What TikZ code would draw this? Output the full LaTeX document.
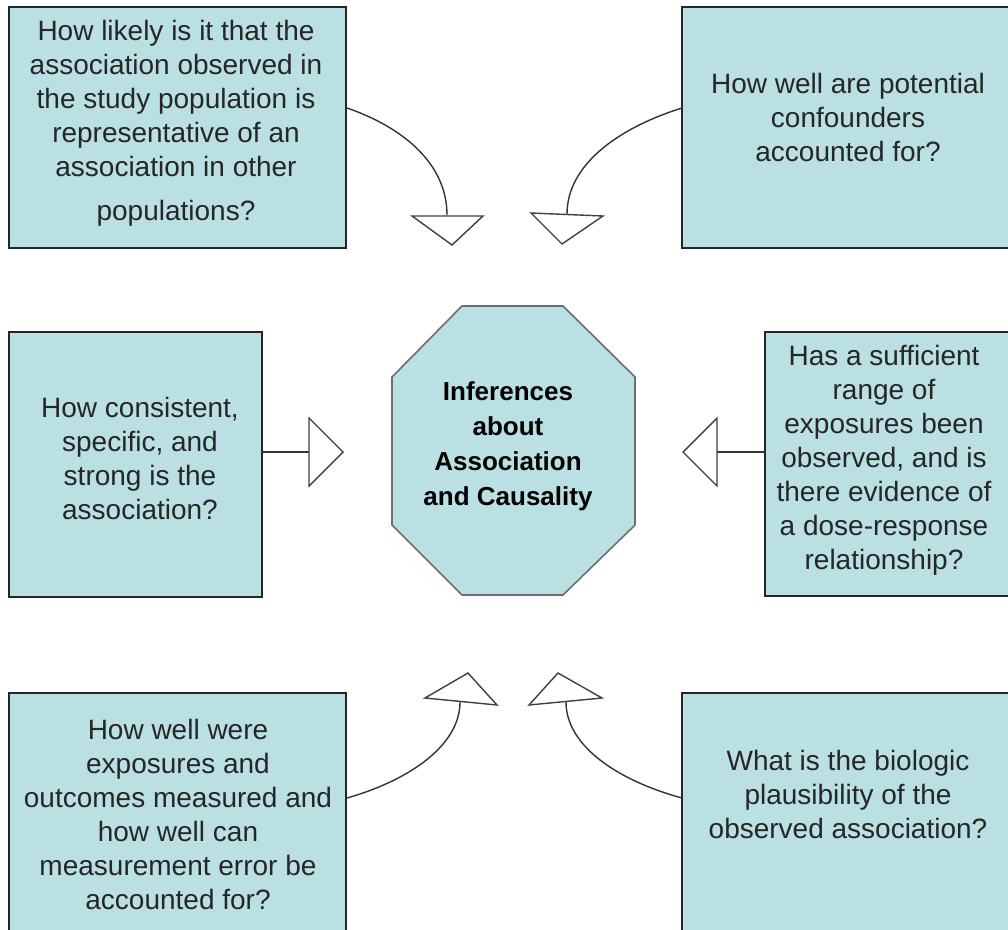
\documentclass[tikz,border=0pt]{standalone}
\usepackage{fontspec}
\setmainfont{Liberation Sans}
\definecolor{boxfill}{RGB}{186,224,227}
\definecolor{octline}{RGB}{110,110,110}
\begin{document}
\begin{tikzpicture}[x=1pt,y=-1pt,
  box/.style={draw=black!85, line width=1.6pt, fill=boxfill, anchor=north west, inner sep=0pt, outer sep=0pt},
  txt/.style={align=center, font=\fontsize{28}{34}\selectfont, text=black!85, inner sep=0pt},
  octtxt/.style={align=center, font=\fontsize{26}{35}\selectfont\bfseries, text=black, inner sep=0pt},
  conn/.style={draw=black!80, line width=1.4pt},
  tri/.style={draw=black!75, line width=1.4pt, fill=white, line join=miter}]
\useasboundingbox (0,0) rectangle (1008,929);
\clip (0,0) rectangle (1008,929);

% boxes
\node[box, minimum width=337pt, minimum height=241pt] (tl) at (9,7) {};
\node[box, minimum width=340pt, minimum height=241pt] (tr) at (682,7) {};
\node[box, minimum width=253pt, minimum height=265pt] (ml) at (9,332) {};
\node[box, minimum width=260pt, minimum height=264pt] (mr) at (765,332) {};
\node[box, minimum width=337pt, minimum height=260pt] (bl) at (9,693) {};
\node[box, minimum width=340pt, minimum height=260pt] (br) at (682,693) {};

% box texts
\node[txt] (tltext) at (176,123) {How likely is it that the\\association observed in\\the study population is\\representative of an\\association in other\\[10pt]populations?};
\node[txt] (trtext) at (848,117) {How well are potential\\confounders\\accounted for?};
\node[txt] (mltext) at (140,458) {How consistent,\\specific, and\\strong is the\\association?};
\node[txt] (mrtext) at (884,460) {Has a sufficient\\range of\\exposures been\\observed, and is\\there evidence of\\a dose-response\\relationship?};
\node[txt] (bltext) at (178,814) {How well were\\exposures and\\outcomes measured and\\how well can\\measurement error be\\accounted for?};
\node[txt] (brtext) at (848,794) {What is the biologic\\plausibility of the\\observed association?};

% central octagon
\draw[draw=octline, line width=1.6pt, fill=boxfill, line join=miter]
  (462,306) -- (563,306) -- (635,377) -- (635,525) -- (563,595) -- (462,595) -- (392,525) -- (392,377) -- cycle;
\node[octtxt] (oct) at (508,446) {Inferences\\about\\Association\\and Causality};

% connector end points (triangle base middles) and starts
\coordinate (s1) at (347,108);
\coordinate (e1) at (447,215);
\coordinate (s2) at (682,108);
\coordinate (e2) at (567,214);
\coordinate (e3) at (309,452);
\coordinate (e4) at (717,452);
\coordinate (s5) at (347,798);
\coordinate (e5) at (460,702);
\coordinate (s6) at (682,798);
\coordinate (e6) at (566,702);

% connectors
\draw[conn] (s1) .. controls (405,128) and (447,165) .. (e1);
\draw[conn] (s2) .. controls (618,128) and (567,165) .. (e2);
\draw[conn] (ml.east |- e3) -- (e3);
\draw[conn] (mr.west |- e4) -- (e4);
\draw[conn] (s5) .. controls (410,780) and (460,745) .. (e5);
\draw[conn] (s6) .. controls (616,780) and (566,745) .. (e6);

% open triangle heads
\draw[tri] (412,216) -- (483,216) -- (452,245) -- cycle;
\draw[tri] (531,213) -- (603,216) -- (562,244) -- cycle;
\draw[tri] (309,418) -- (309,486) -- (343,452) -- cycle;
\draw[tri] (717,418) -- (717,486) -- (683,452) -- cycle;
\draw[tri] (425,698) -- (497,705) -- (468,673) -- cycle;
\draw[tri] (529,705) -- (602,698) -- (558,673) -- cycle;
\end{tikzpicture}
\end{document}
